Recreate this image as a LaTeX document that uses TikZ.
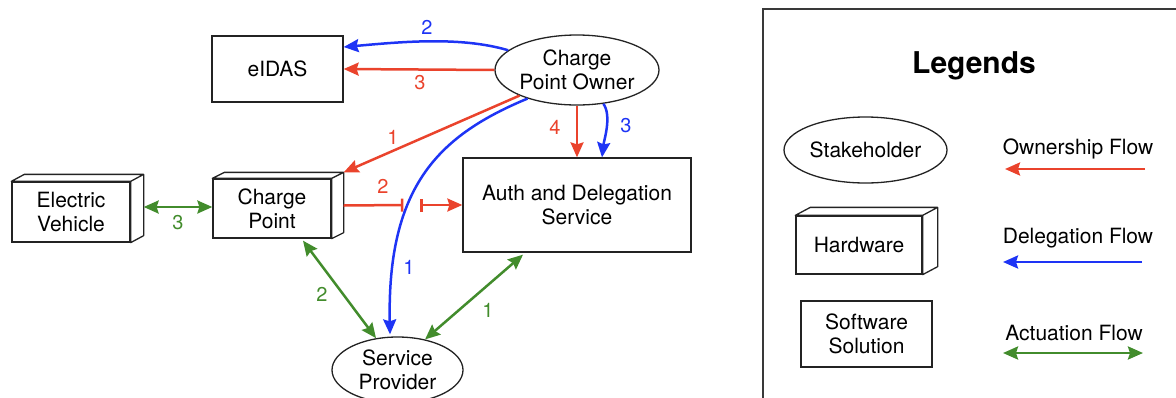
\documentclass[tikz,border=0pt]{standalone}
\usepackage{fontspec}
\setmainfont{TeX Gyre Heros}
\usetikzlibrary{arrows.meta,shapes.geometric,calc}
\definecolor{own}{RGB}{234,67,44}
\definecolor{dlg}{RGB}{30,52,245}
\definecolor{act}{RGB}{66,140,44}
\definecolor{edge}{RGB}{35,35,35}

% hardware block: front face is the node, top and side faces drawn behind it
\newcommand\hwdepth[3]{%
  \draw[edge,line width=1.3pt,line join=round,fill=white]
    (#1.north west) -- ($(#1.north west)+(#2,-#3)$) -- ($(#1.north east)+(#2,-#3)$)
    -- ($(#1.south east)+(#2,-#3)$) -- (#1.south east) -- (#1.north east) -- cycle
    (#1.north east) -- ($(#1.north east)+(#2,-#3)$);}

\begin{document}
\begin{tikzpicture}[x=1pt,y=-1pt,
  every node/.style={font=\fontsize{21}{24}\selectfont, align=center, inner sep=0pt},
  swbox/.style={draw=edge, line width=1.3pt, rectangle, fill=white},
  hwbox/.style={draw=edge, line width=1.3pt, rectangle, fill=white},
  stake/.style={draw=edge, line width=1.3pt, ellipse, fill=white},
  lbl/.style={font=\fontsize{20}{20}\selectfont},
  flow/.style={line width=2.5pt, -{Stealth[length=15pt,width=13pt,inset=2pt]}},
  both/.style={line width=2.5pt, {Stealth[length=15pt,width=13pt,inset=2pt]}-{Stealth[length=15pt,width=13pt,inset=2pt]}},
]
\useasboundingbox (0,0) rectangle (1176,397);
\clip (0,0) rectangle (1176,397);

% ---------- stakeholders, hardware and software ----------
\node[swbox, minimum width=131, minimum height=66] (eidas) at (277.5,69) {eIDAS};
\node[stake, minimum width=164, minimum height=70] (cpo) at (577,70) {Charge\\Point Owner};
\node[hwbox, minimum width=118, minimum height=60] (ev) at (71,212) {Electric\\Vehicle};
\hwdepth{ev}{13}{7}
\node[hwbox, minimum width=118, minimum height=59] (cp) at (272,208.5) {Charge\\Point};
\hwdepth{cp}{12}{6}
\node[swbox, minimum width=228, minimum height=94] (ads) at (577,205) {Auth and Delegation\\Service};
\node[stake, minimum width=131, minimum height=66] (sp) at (397.5,370) {Service\\Provider};

% ---------- ownership flows ----------
\draw[own,flow] (cpo.west) -- (eidas.east);
\draw[own,flow] (cpo.204) -- ($(cp.north east)+(12,-6)$);
\draw[own,line width=2.5pt,-{Bar[width=13pt]}] ($(cp.east)+(12,-3)$) -- ($(ads.west)+(-59,0)$);
\draw[own,line width=2.5pt,{Bar[width=13pt]}-{Stealth[length=15pt,width=13pt,inset=2pt]}] ($(ads.west)+(-42,0)$) -- (ads.west);
\draw[own,flow] (cpo.south) -- (ads.north);

% ---------- delegation flows ----------
\draw[dlg,flow] (cpo.164) .. controls (460,36) and (400,42) .. ($(eidas.east)+(0,-22)$);
\draw[dlg,flow] (cpo.210) .. controls (440,135) and (387,185) .. ($(sp.north)+(-7.5,-2)$);
\draw[dlg,flow] (cpo.308) .. controls (612,116) and (604,140) .. ($(ads.north)+(25,0)$);

% ---------- actuation flows ----------
\draw[act,both] ($(ev.east)+(13,-5)$) -- ($(cp.west)+(0,-1.5)$);
\draw[act,both] ($(cp.south)+(31,2)$) -- (sp.124);
\draw[act,both] ($(ads.south)+(-54,2)$) -- (sp.48);

% ---------- flow numbers ----------
\node[lbl,text=dlg] (n-d2) at (427,27) {2};
\node[lbl,text=own] (n-o3) at (420,83) {3};
\node[lbl,text=own] (n-o1) at (393,137) {1};
\node[lbl,text=own] (n-o2) at (383,186) {2};
\node[lbl,text=own] (n-o4) at (555,127) {4};
\node[lbl,text=dlg] (n-d3) at (626,126) {3};
\node[lbl,text=dlg] (n-d1) at (409,267) {1};
\node[lbl,text=act] (n-a3) at (178,223) {3};
\node[lbl,text=act] (n-a2) at (322,294) {2};
\node[lbl,text=act] (n-a1) at (488,310) {1};

% ---------- legend ----------
\draw[edge!90,line width=1.3pt] (763,9) rectangle (1190,410);
\node[font=\fontsize{30}{30}\selectfont\bfseries] (leg) at (974,66) {Legends};
\node[stake, minimum width=163, minimum height=66] (lstake) at (865.5,150) {Stakeholder};
\node[hwbox, minimum width=126, minimum height=58] (lhw) at (859,245) {Hardware};
\hwdepth{lhw}{15}{8}
\node[swbox, minimum width=131, minimum height=66] (lsw) at (866.5,334) {Software\\Solution};

\node (lown) at (1078,149) {Ownership Flow};
\node (ldlg) at (1078,238) {Delegation Flow};
\node (lact) at (1074,333) {Actuation Flow};
\coordinate (lo1) at (1145,169); \coordinate (lo2) at (1005,169);
\coordinate (ld1) at (1142,262); \coordinate (ld2) at (1003,262);
\coordinate (la1) at (1003,353); \coordinate (la2) at (1143,353);
\draw[own,flow] (lo1) -- (lo2);
\draw[dlg,flow] (ld1) -- (ld2);
\draw[act,both] (la1) -- (la2);
\end{tikzpicture}
\end{document}
